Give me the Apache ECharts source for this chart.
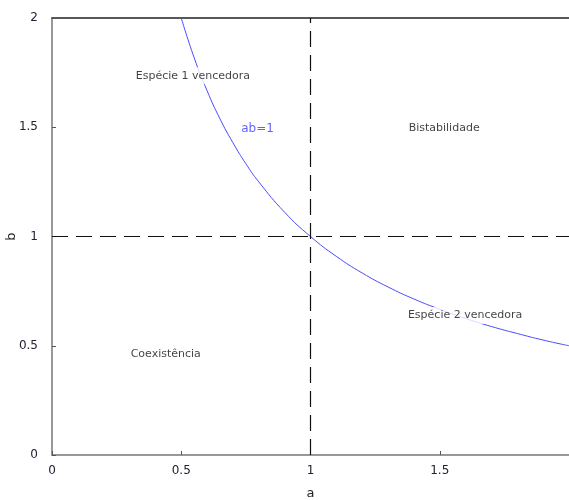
<!DOCTYPE html>
<html>
<head>
<meta charset="utf-8">
<script src="https://cdn.jsdelivr.net/npm/echarts@6/dist/echarts.min.js"></script>
<style>
  html, body { margin: 0; padding: 0; background: #fff; }
  #chart { width: 569px; height: 500px; }
</style>
</head>
<body>
<div id="chart"></div>
<script>
// Boundary curve ab = 1 (a, b pairs)
const curveA = [0.5, 0.55, 0.6, 0.65, 0.7, 0.75, 0.8, 0.9, 1.0, 1.1, 1.2, 1.3, 1.4, 1.5, 1.6, 1.7, 1.8, 1.9, 2.0];
const curveB = [2.0, 1.818, 1.667, 1.538, 1.429, 1.333, 1.25, 1.111, 1.0, 0.909, 0.833, 0.769, 0.714, 0.667, 0.625, 0.588, 0.556, 0.526, 0.5];

// Threshold lines
const thresholdA = 1;
const thresholdB = 1;

// Region labels
const regionNames = ['Espécie 1 vencedora', 'Bistabilidade', 'Espécie 2 vencedora', 'Coexistência'];
const regionA = [0.545, 1.517, 1.598, 0.44];
const regionB = [1.736, 1.494, 0.638, 0.46];

// Curve label
const curveLabel = 'ab=1';
const curveLabelA = 0.795;
const curveLabelB = 1.494;

const tickFont = { color: '#222233', fontSize: 12, fontFamily: 'DejaVu Sans' };

const chart = echarts.init(document.getElementById('chart'));
chart.setOption({
  animation: false,
  grid: { left: 52, right: 0, top: 18, bottom: 45, outerBoundsMode: 'none', containLabel: false },
  xAxis: [{
    type: 'value', min: 0, max: 2, interval: 0.5,
    name: 'a', nameLocation: 'middle', nameGap: 32, nameMoveOverlap: false,
    nameTextStyle: { color: '#222', fontSize: 13, fontFamily: 'DejaVu Sans' },
    axisLine: { lineStyle: { color: '#777', width: 1.5 } },
    axisTick: { inside: true, length: 4, lineStyle: { color: '#555' } },
    axisLabel: Object.assign({ margin: 10, showMaxLabel: false }, tickFont),
    splitLine: { show: false }
  }, {
    type: 'value', min: 0, max: 2, position: 'top',
    axisLine: { show: true, lineStyle: { color: '#222', width: 1.5 } },
    axisTick: { show: false }, axisLabel: { show: false }, splitLine: { show: false }
  }],
  yAxis: {
    type: 'value', min: 0, max: 2, interval: 0.5,
    name: 'b', nameLocation: 'middle', nameGap: 34, nameMoveOverlap: false,
    nameTextStyle: { color: '#222', fontSize: 13, fontFamily: 'DejaVu Sans' },
    axisLine: { show: true, lineStyle: { color: '#777', width: 1.5 } },
    axisTick: { show: true, inside: true, length: 4, lineStyle: { color: '#555' } },
    axisLabel: Object.assign({ margin: 14 }, tickFont),
    splitLine: { show: false }
  },
  series: [{
    type: 'line',
    data: curveA.map((a, i) => [a, curveB[i]]),
    smooth: true,
    symbol: 'none',
    lineStyle: { color: '#4a4aff', width: 1 },
    z: 2,
    markLine: {
      silent: true, symbol: 'none',
      label: { show: false },
      lineStyle: { color: '#111', type: [16, 8], width: 1.2 },
      data: [{ xAxis: thresholdA }, { yAxis: thresholdB }]
    }
  }, {
    type: 'scatter',
    symbolSize: 0,
    z: 5,
    data: regionNames.map((n, i) => ({ name: n, value: [regionA[i], regionB[i]] })),
    label: {
      show: true, position: 'inside', formatter: '{b}',
      color: '#111', fontSize: 11, fontFamily: 'DejaVu Sans',
      backgroundColor: '#fff', padding: [3, 3]
    }
  }, {
    type: 'scatter',
    symbolSize: 0,
    z: 5,
    data: [{ name: curveLabel, value: [curveLabelA, curveLabelB] }],
    label: {
      show: true, position: 'inside', formatter: '{b}',
      color: '#3a3aff', fontSize: 12, fontFamily: 'DejaVu Sans'
    }
  }]
});
</script>
</body>
</html>
